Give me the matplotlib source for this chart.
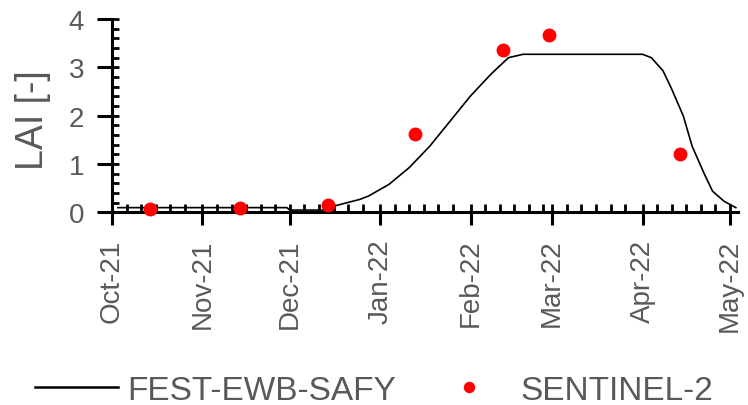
import matplotlib
matplotlib.use("Agg")
import matplotlib.pyplot as plt
import matplotlib.dates as mdates
import matplotlib.ticker as mticker
import pandas as pd

# Modelled LAI (FEST-EWB-SAFY)
model_dates = ["2021-10-03", "2021-11-30", "2021-12-01", "2021-12-15", "2021-12-16",
               "2021-12-25", "2021-12-28", "2022-01-04", "2022-01-11", "2022-01-18",
               "2022-01-25", "2022-02-01", "2022-02-08", "2022-02-14", "2022-02-19",
               "2022-04-01", "2022-04-04", "2022-04-08", "2022-04-11", "2022-04-15",
               "2022-04-18", "2022-04-22", "2022-04-25", "2022-04-29", "2022-05-03"]
model_lai = [0.10, 0.10, 0.05, 0.05, 0.13,
             0.27, 0.34, 0.58, 0.93, 1.37,
             1.89, 2.41, 2.86, 3.20, 3.27,
             3.27, 3.20, 2.93, 2.55, 1.99,
             1.37, 0.82, 0.44, 0.23, 0.10]

# Observed LAI (Sentinel-2)
s2_dates = ["2021-10-14", "2021-11-14", "2021-12-14", "2022-01-13",
            "2022-02-12", "2022-02-28", "2022-04-14"]
s2_lai = [0.08, 0.10, 0.15, 1.62, 3.36, 3.66, 1.20]

series_labels = ["FEST-EWB-SAFY", "SENTINEL-2"]
y_ticks = [0, 1, 2, 3, 4]

plt.rcParams["font.family"] = ["Liberation Sans", "DejaVu Sans"]

gray = "#595959"
fig = plt.figure(figsize=(7.48, 4.06), dpi=100)
ax = fig.add_axes([0.1497, 0.4742, 0.837, 0.4766])

md = pd.to_datetime(model_dates)
sd = pd.to_datetime(s2_dates)
ax.plot(md, model_lai, color="black", lw=1.2, label=series_labels[0], zorder=3, clip_on=False)
ax.plot(sd, s2_lai, ls="none", marker="o", ms=9, color="#ff0000", mec="#ff0000",
        label=series_labels[1], zorder=4, clip_on=False)

ax.set_xlim(pd.Timestamp("2021-10-01"), pd.Timestamp("2022-05-03 18:00"))
ax.set_ylim(0, 4)
ax.set_yticks(y_ticks)
ax.yaxis.set_minor_locator(mticker.MultipleLocator(0.2))
ax.xaxis.set_major_locator(mdates.MonthLocator())
ax.xaxis.set_major_formatter(mdates.DateFormatter("%b-%y"))
ax.xaxis.set_minor_locator(mdates.DayLocator(bymonthday=[1, 6, 11, 16, 21, 26]))
ax.xaxis.remove_overlapping_locs = False
ax.yaxis.remove_overlapping_locs = False

for s in ["top", "right"]:
    ax.spines[s].set_visible(False)
for s in ["left", "bottom"]:
    ax.spines[s].set_linewidth(2.2)

ax.tick_params(which="major", direction="out", width=2.2, colors="black",
               labelcolor=gray, labelsize=20)
ax.tick_params(axis="x", which="major", length=9, pad=10, labelrotation=90)
ax.tick_params(axis="y", which="major", length=11, pad=9)
ax.tick_params(which="minor", direction="in", length=6, width=2, colors="black")
ax.tick_params(axis="y", which="minor", length=5)

ax.set_ylabel("LAI [-]", color=gray, fontsize=27)
ax.yaxis.set_label_coords(-0.098, 0.48)

leg = fig.legend(loc="center", bbox_to_anchor=(0.5, 0.036), ncol=2, frameon=False,
                 fontsize=24, handlelength=2.5, handletextpad=0.27, columnspacing=0.95,
                 labelcolor=gray, markerscale=0.8)
leg.get_lines()[0].set_linewidth(1.8)

fig.savefig("out.png", dpi=100)
